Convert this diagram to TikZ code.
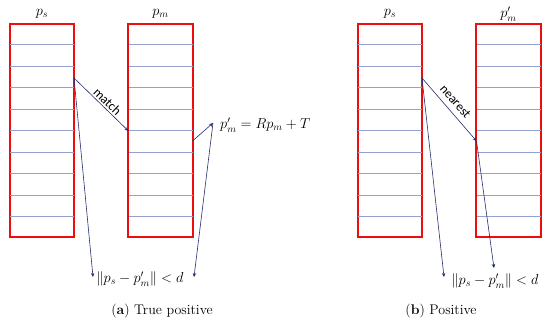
\documentclass[tikz,border=0pt]{standalone}
\usepackage{fontspec}
\newfontfamily\lblfont{Carlito}
\usetikzlibrary{arrows.meta,calc}
\definecolor{boxred}{rgb}{0.93,0.05,0.05}
\definecolor{rowline}{RGB}{150,160,205}
\definecolor{navy}{RGB}{35,45,115}
\tikzset{
  cellbox/.style={draw=boxred, line width=1.4pt, rectangle, inner sep=0pt, minimum width=64pt, minimum height=213pt},
  arr/.style={draw=navy, line width=0.6pt, -{Stealth[length=4pt,width=3.5pt]}},
  mtext/.style={font=\fontsize{14}{16}\selectfont, inner sep=1pt},
  captext/.style={font=\fontsize{14}{16}\selectfont, inner sep=1pt},
  arrlbl/.style={font=\lblfont\fontsize{13}{15}\selectfont, inner sep=1pt}
}
\newcommand{\rowlines}[1]{%
  \foreach \k in {1,...,9} {
    \draw[rowline, line width=0.6pt] ($(#1.north west)!\k/10!(#1.south west)$) -- ($(#1.north east)!\k/10!(#1.south east)$);
  }
  \draw[boxred, line width=1.4pt] (#1.north west) rectangle (#1.south east);
}
\begin{document}
\begin{tikzpicture}[x=1pt,y=-1pt]
\useasboundingbox (0,0) rectangle (550,327);
% panel (a)
\node[cellbox] (aps) at (42,130.5) {};
\node[cellbox] (apm) at (160.5,130.5) {};
\rowlines{aps}
\rowlines{apm}
\node[mtext] (apsl) at (42,14) {$p_s$};
\node[mtext] (apml) at (160.5,14) {$p_m$};
\coordinate (a1) at (74,78);
\coordinate (a2) at (128.5,131);
\coordinate (a3) at (192.5,141);
\coordinate (a4) at (213,123);
\coordinate (a5) at (93,277);
\coordinate (a6) at (194,277);
\draw[arr] (a1) -- (a2);
\node[arrlbl, rotate=-44] (mlbl) at (107.5,101.5) {match};
\draw[arr] (a1) -- (a5);
\draw[arr] (a3) -- (a4);
\draw[arr] (a4) -- (a6);
\node[mtext, anchor=west] (aeq) at (219,125) {$p'_m = Rp_m + T$};
\node[mtext] (anorm) at (140,279) {$\|p_s - p'_m\| < d$};
\node[captext] (acap) at (162,311) {(\textbf{a}) True positive};
% panel (b)
\node[cellbox] (bps) at (390,130.5) {};
\node[cellbox] (bpm) at (508.5,130.5) {};
\rowlines{bps}
\rowlines{bpm}
\node[mtext] (bpsl) at (390,14) {$p_s$};
\node[mtext] (bpml) at (508.5,14) {$p'_m$};
\coordinate (b1) at (422,78);
\coordinate (b2) at (476.5,141);
\coordinate (b5) at (444,277);
\coordinate (b6) at (494,268);
\draw[arr] (b1) -- (b2);
\node[arrlbl, rotate=-49] (nlbl) at (455.5,101.5) {nearest};
\draw[arr] (b1) -- (b5);
\draw[arr] (b2) -- (b6);
\node[mtext] (bnorm) at (495,281) {$\|p_s - p'_m\| < d$};
\node[captext] (bcap) at (441,311) {(\textbf{b}) Positive};
\end{tikzpicture}
\end{document}
